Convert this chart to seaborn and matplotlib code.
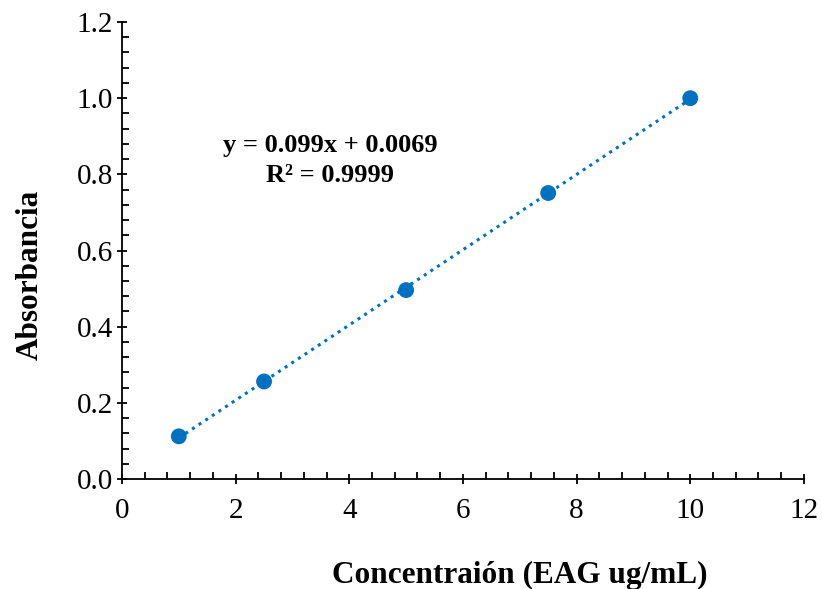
import numpy as np
import pandas as pd
import seaborn as sns
import matplotlib.pyplot as plt
from matplotlib.ticker import MultipleLocator

# calibration data
conc = [1.0, 2.5, 5.0, 7.5, 10.0]
absorb = [0.112, 0.256, 0.496, 0.751, 1.000]
equation = "y = 0.099x + 0.0069"
r2_text = "R² = 0.9999"

BLUE = "#0070C0"

sns.set_style("ticks")
plt.rcParams['font.family'] = ['Liberation Serif', 'DejaVu Serif']
plt.rcParams['text.color'] = 'black'
plt.rcParams['axes.labelcolor'] = 'black'

df = pd.DataFrame({"conc": conc, "abs": absorb})

fig = plt.figure(figsize=(8.22, 5.89), dpi=100)
ax = fig.add_axes([0.1484, 0.1868, 0.8296, 0.7758])

sns.regplot(data=df, x="conc", y="abs", ax=ax, ci=None, color=BLUE,
            scatter_kws={"s": 130, "alpha": 1, "edgecolor": "none", "zorder": 3},
            line_kws={"ls": (0, (1, 1.6)), "lw": 2.2, "zorder": 2})

ax.set_xlim(0, 12)
ax.set_ylim(0, 1.2)
ax.xaxis.set_major_locator(MultipleLocator(2))
ax.xaxis.set_minor_locator(MultipleLocator(0.4))
ax.yaxis.set_major_locator(MultipleLocator(0.2))
ax.yaxis.set_minor_locator(MultipleLocator(0.04))
ax.yaxis.set_major_formatter(plt.FormatStrFormatter('%.1f'))

ax.tick_params(which='major', direction='inout', length=7, width=1.3,
               labelsize=21, colors='black')
ax.tick_params(axis='x', which='major', pad=10)
ax.tick_params(axis='y', which='major', pad=3)
ax.tick_params(which='minor', direction='in', length=5, width=1.3, colors='black')
for side in ['left', 'bottom']:
    ax.spines[side].set_linewidth(1.3)
    ax.spines[side].set_color('black')
sns.despine(ax=ax)

ax.set_xlabel("Concentraión (EAG ug/mL)", fontsize=22.5, fontweight='bold')
ax.xaxis.set_label_coords(0.584, -0.18)
ax.set_ylabel("Absorbancia", fontsize=22.5, fontweight='bold')
ax.yaxis.set_label_coords(-0.113, 0.446)

ax.text(3.66, 0.877, equation, ha='center', va='center', fontsize=19, fontweight='bold')
ax.text(3.66, 0.797, r2_text, ha='center', va='center', fontsize=19, fontweight='bold')

fig.savefig("out.png", dpi=100)
